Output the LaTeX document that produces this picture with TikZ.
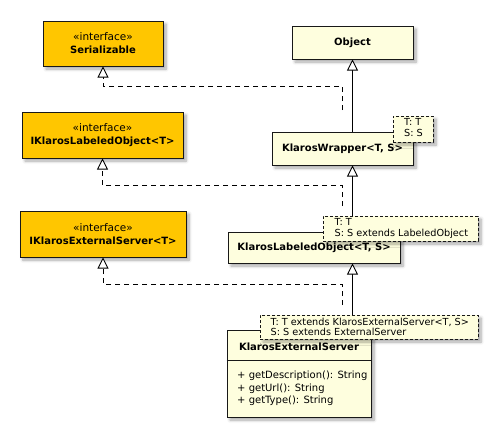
\documentclass[tikz,border=0pt]{standalone}
\usepackage{fontspec}
\setmainfont{DejaVu Sans}
\usetikzlibrary{arrows.meta,shadows.blur}
\definecolor{ifc}{RGB}{255,198,0}
\definecolor{clsc}{RGB}{254,254,222}
\definecolor{bordc}{RGB}{24,24,24}
\begin{document}
\begin{tikzpicture}[x=1pt,y=-1pt,
  shad/.style={blur shadow={shadow xshift=3pt,shadow yshift=-3pt,shadow blur steps=6,shadow opacity=35,shadow blur radius=3pt}},
  box/.style={draw=bordc,line width=1pt,rectangle,inner sep=0pt,align=center,shad,font=\fontsize{10}{13}\selectfont},
  iface/.style={box,fill=ifc},
  cls/.style={box,fill=clsc},
  note/.style={draw=bordc,line width=0.8pt,dash pattern=on 3pt off 2pt,fill=clsc,rectangle,inner sep=0pt,shad},
  notetext/.style={inner sep=0pt,align=left,anchor=north west,font=\fontsize{9.7}{10.8}\selectfont},
  gen/.style={line width=0.9pt,-{Triangle[open,length=11pt,width=11pt,fill=white]}},
  real/.style={gen,dash pattern=on 5pt off 4pt},
  lbl/.style={inner sep=0pt,font=\fontsize{10}{13}\selectfont\bfseries},
  meth/.style={inner sep=0pt,align=left,font=\fontsize{10}{12.7}\selectfont,anchor=north west},
  st/.style={font=\fontsize{10.5}{13}\selectfont}
]
\useasboundingbox (0,0) rectangle (499,437);

% interfaces
\node[iface,minimum width=120pt,minimum height=45pt] (ser) at (103,43.5)
  {{\fontsize{10.5}{13}\selectfont«interface»}\\\textbf{Serializable}};
\node[iface,minimum width=161pt,minimum height=46pt] (ilo) at (102.5,135)
  {{\fontsize{10.5}{13}\selectfont«interface»}\\\textbf{IKlarosLabeledObject<T>}};
\node[iface,minimum width=166pt,minimum height=46pt] (ies) at (103,234)
  {{\fontsize{10.5}{13}\selectfont«interface»}\\\textbf{IKlarosExternalServer<T>}};

% classes
\node[cls,minimum width=121pt,minimum height=33pt,font=\fontsize{10}{13}\selectfont\bfseries] (obj) at (352.5,42.5) {Object};
\node[cls,minimum width=141pt,minimum height=33pt,font=\fontsize{10}{13}\selectfont\bfseries] (wrap) at (342.5,148.5) {KlarosWrapper<T, S>};
\node[cls,minimum width=172pt,minimum height=31pt,font=\fontsize{10}{13}\selectfont\bfseries] (lab) at (314,247.5) {KlarosLabeledObject<T, S>};
\node[cls,minimum width=144pt,minimum height=87pt] (ext) at (299,373.5) {};
\node[lbl] (extname) at (299,347) {KlarosExternalServer};
\draw[line width=0.8pt,draw=bordc] (ext.west |- 0,360) coordinate (sepl) -- (ext.east |- 0,360) coordinate (sepr);
\node[meth] (extm) at (237,370.5) {+ getDescription(): String\\+ getUrl(): String\\+ getType(): String};

% generalizations
\draw[gen] (obj.south |- wrap.north) -- (obj.south);
\draw[gen] (obj.south |- lab.north) -- (obj.south |- wrap.south);
\draw[gen] (obj.south |- ext.north) -- (obj.south |- lab.south);

% realizations
\coordinate (r1) at (342,110);
\coordinate (r2) at (342,206);
\coordinate (r3) at (342,305);
\draw[real] (r1) -- (342,86) -| (ser.south);
\draw[real] (r2) -- (342,185) -| (ilo.south);
\draw[real] (r3) -- (342,284) -| (ies.south);

% notes
\node[note,minimum width=40pt,minimum height=26pt] (n1) at (413,129) {};
\node[notetext] (n1t) at (404,118.5) {T: T\\S: S};
\node[note,minimum width=155pt,minimum height=25pt] (n2) at (400.5,228.5) {};
\node[notetext] (n2t) at (334.5,218) {T: T\\S: S extends LabeledObject};
\node[note,minimum width=218pt,minimum height=24pt] (n3) at (369,327) {};
\node[notetext] (n3t) at (270.5,317.5) {T: T extends KlarosExternalServer<T, S>\\S: S extends ExternalServer};
\end{tikzpicture}
\end{document}
